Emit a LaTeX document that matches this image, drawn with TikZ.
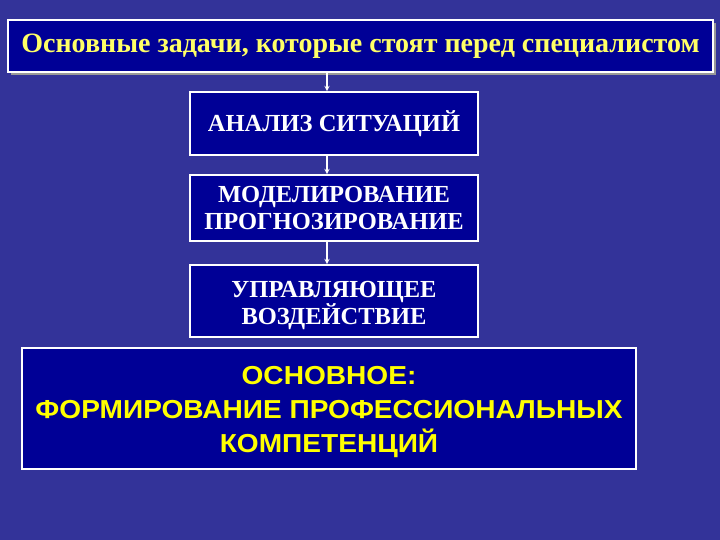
\documentclass[tikz,border=0pt]{standalone}
\usepackage{fontspec}
\setmainfont{Liberation Serif}
\newfontfamily\arialfont[FakeStretch=1.08]{Liberation Sans}
\usetikzlibrary{shadows}
\definecolor{slidebg}{RGB}{51,51,153}
\definecolor{boxfill}{RGB}{0,0,150}
\definecolor{titleyellow}{RGB}{255,255,102}
\definecolor{mainyellow}{RGB}{255,255,0}
\tikzset{
  taskbox/.style={draw=white,line width=1.6pt,fill=boxfill,text=white,
    font=\bfseries\fontsize{24.5}{27}\selectfont,align=center,
    minimum width=288pt,inner sep=0pt},
  flow/.style={->,>=stealth,draw=white,line width=1.4pt}
}
\begin{document}
\begin{tikzpicture}[x=1pt,y=-1pt]
\useasboundingbox (0,0) rectangle (720,540);
\fill[slidebg] (0,0) rectangle (720,540);
% title
\node[draw=white,line width=1.8pt,fill=boxfill,text=titleyellow,
  drop shadow={shadow xshift=3pt,shadow yshift=-3pt,fill=gray!80,opacity=1},
  font=\bfseries\fontsize{28}{32}\selectfont,
  minimum width=705pt,minimum height=52pt,inner sep=0pt]
  (title) at (360.5,46) {Основные задачи, которые стоят перед специалистом};
% steps
\node[taskbox,minimum height=63pt] (analiz) at (334,123.5) {АНАЛИЗ СИТУАЦИЙ};
\node[taskbox,minimum height=66pt] (model) at (334,208) {МОДЕЛИРОВАНИЕ\\ПРОГНОЗИРОВАНИЕ};
\node[taskbox,minimum height=72pt] (upr) at (334,301) {\rule{0pt}{26pt}УПРАВЛЯЮЩЕЕ\\ВОЗДЕЙСТВИЕ};
% main goal
\node[draw=white,line width=1.6pt,fill=boxfill,text=mainyellow,
  font=\arialfont\bfseries\fontsize{26}{34}\selectfont,align=center,
  minimum width=614pt,minimum height=121pt,inner sep=0pt]
  (osn) at (329,408.5) {\rule{0pt}{26pt}ОСНОВНОЕ:\\ФОРМИРОВАНИЕ ПРОФЕССИОНАЛЬНЫХ\\КОМПЕТЕНЦИЙ};
\draw[flow] ([xshift=-7pt]analiz.north |- title.south) -- ([xshift=-7pt]analiz.north);
\draw[flow] ([xshift=-7pt]analiz.south) -- ([xshift=-7pt]model.north);
\draw[flow] ([xshift=-7pt]model.south) -- ([xshift=-7pt]upr.north);
\end{tikzpicture}
\end{document}
